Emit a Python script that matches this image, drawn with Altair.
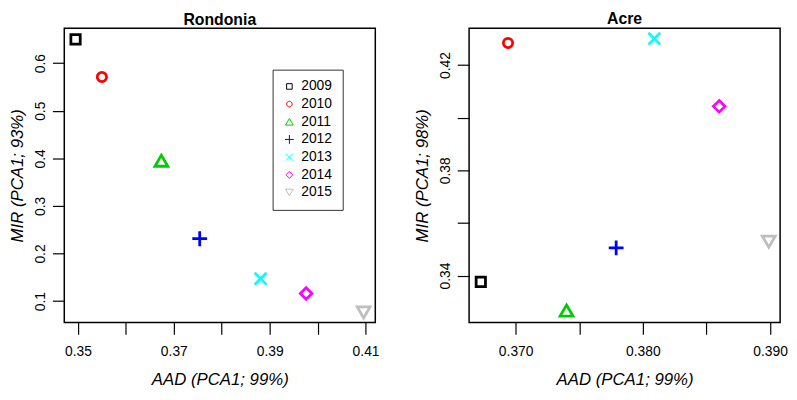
import altair as alt
import pandas as pd

years = ["2009", "2010", "2011", "2012", "2013", "2014", "2015"]

rondonia_aad = [0.3495, 0.3550, 0.3674, 0.3754, 0.3881, 0.3976, 0.4096]
rondonia_mir = [0.650, 0.571, 0.395, 0.231, 0.147, 0.116, 0.076]

acre_aad = [0.36726, 0.3694, 0.3740, 0.3779, 0.3809, 0.3860, 0.3899]
acre_mir = [0.3376, 0.4284, 0.3267, 0.3505, 0.4300, 0.4043, 0.3529]

colors = ["#000000", "#FF0000", "#00CD00", "#0000FF", "#00FFFF", "#FF00FF", "#BEBEBE"]
# R pch 0..6 drawn as unit-space SVG paths (open square, circle, triangle,
# plus, cross, diamond, down triangle)
shapes = [
    "M-0.63,-0.63L0.63,-0.63L0.63,0.63L-0.63,0.63Z",
    "M-0.63,0A0.63,0.63,0,1,1,0.63,0A0.63,0.63,0,1,1,-0.63,0Z",
    "M0,-0.75L0.87,0.75L-0.87,0.75Z",
    "M-1,0L1,0M0,-1L0,1",
    "M-0.8,-0.8L0.8,0.8M-0.8,0.8L0.8,-0.8",
    "M0,-0.78L0.78,0L0,0.78L-0.78,0Z",
    "M0,0.75L0.87,-0.75L-0.87,-0.75Z",
]

rond_x_ticks = [0.35, 0.36, 0.37, 0.38, 0.39, 0.40, 0.41]
rond_y_ticks = [0.1, 0.2, 0.3, 0.4, 0.5, 0.6]
acre_x_ticks = [0.370, 0.375, 0.380, 0.385, 0.390]
acre_y_ticks = [0.34, 0.36, 0.38, 0.40, 0.42]

rond_x_domain = [0.34715, 0.41203]
rond_y_domain = [0.0551, 0.6735]
acre_x_domain = [0.36634, 0.39079]
acre_y_domain = [0.3222, 0.4340]

FONT = "Liberation Sans"

rond_df = pd.DataFrame({"year": years, "aad": rondonia_aad, "mir": rondonia_mir})
acre_df = pd.DataFrame({"year": years, "aad": acre_aad, "mir": acre_mir})


def panel(df, title, xdom, ydom, xticks, yticks, xfmt, yfmt, xexpr, yexpr,
          ytitle, legend):
    color_legend = None
    if legend:
        color_legend = alt.Legend(
            title=None, orient="none", legendX=211, legendY=42,
            padding=10, strokeColor="#333333", fillColor="white",
            symbolSize=80, symbolStrokeWidth=1, symbolOffset=0,
            rowPadding=3.9, labelFontSize=14, labelFont=FONT,
            labelColor="black", labelOffset=5,
        )
    return alt.Chart(df).mark_point(filled=False, strokeWidth=2.8, opacity=1,
                                    size=225).encode(
        x=alt.X("aad:Q", scale=alt.Scale(domain=xdom, nice=False, zero=False),
                axis=alt.Axis(values=xticks, format=xfmt, labelExpr=xexpr,
                              title="AAD (PCA1; 99%)", labelPadding=11,
                              titlePadding=13)),
        y=alt.Y("mir:Q", scale=alt.Scale(domain=ydom, nice=False, zero=False),
                axis=alt.Axis(values=yticks, format=yfmt, labelExpr=yexpr,
                              title=ytitle, labelAngle=270, labelAlign="center",
                              labelBaseline="bottom", labelPadding=5,
                              titlePadding=7)),
        color=alt.Color("year:N", scale=alt.Scale(domain=years, range=colors),
                        legend=color_legend),
        shape=alt.Shape("year:N", scale=alt.Scale(domain=years, range=shapes),
                        legend=color_legend),
    ).properties(
        width=315, height=298,
        title=alt.TitleParams(title, fontSize=16, fontWeight="bold", font=FONT,
                              color="black", anchor="middle", offset=0),
    )


left = panel(rond_df, "Rondonia", rond_x_domain, rond_y_domain, rond_x_ticks,
             rond_y_ticks, ".2f", ".1f",
             "round(datum.value*100) % 2 == 1 ? datum.label : ''",
             "datum.label", "MIR (PCA1; 93%)", True)
right = panel(acre_df, "Acre", acre_x_domain, acre_y_domain, acre_x_ticks,
              acre_y_ticks, ".3f", ".2f",
              "round(datum.value*1000) % 10 == 0 ? datum.label : ''",
              "round(datum.value*100) % 4 == 2 ? datum.label : ''",
              "MIR (PCA1; 98%)", False)

chart = alt.hconcat(left, right, spacing=33).resolve_scale(
    x="independent", y="independent", color="independent",
    shape="independent",
).resolve_legend(color="independent", shape="independent").properties(
    padding=0
).configure_view(
    stroke="black", strokeWidth=1.5
).configure_axis(
    domain=False, grid=False, tickColor="black", tickWidth=1.2, tickSize=12,
    labelFont=FONT, labelFontSize=14, labelColor="black",
    titleFont=FONT, titleFontSize=17, titleFontStyle="italic",
    titleFontWeight="normal", titleColor="black",
)

chart.save("out.html", embed_options={"renderer": "svg", "actions": False})
